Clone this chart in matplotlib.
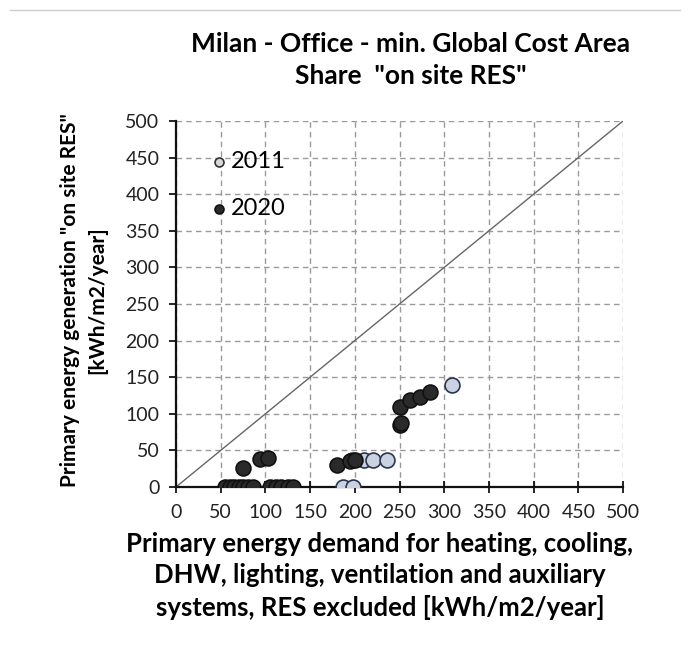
import matplotlib
matplotlib.use("Agg")
import matplotlib.pyplot as plt
from matplotlib.lines import Line2D

# Data
x2011 = [187, 198, 197, 210, 220, 236, 309]
y2011 = [0, 0, 37, 37, 37, 37, 139]

x2020 = [55, 60, 65, 70, 75, 80, 86, 105, 112, 118, 125, 131,
         75, 94, 103, 180, 195, 200, 250, 252, 250, 262, 273, 284]
y2020 = [0, 0, 0, 0, 0, 0, 0, 0, 0, 0, 0, 0,
         26, 38, 40, 30, 35, 37, 85, 88, 109, 119, 123, 130]

ticks = list(range(0, 501, 50))

title = 'Milan - Office - min. Global Cost Area\nShare  "on site RES"'
xlabel = ('Primary energy demand for heating, cooling,\n'
          'DHW, lighting, ventilation and auxiliary\n'
          'systems, RES excluded [kWh/m2/year]')
ylabel = 'Primary energy generation "on site RES"\n[kWh/m2/year]'

plt.rcParams['font.family'] = ['Lato', 'DejaVu Sans']

fig = plt.figure(figsize=(6.93, 6.49), dpi=100)
ax = fig.add_axes([176/693, 1-487/649, (623-176)/693, (487-121)/649])

ax.set_xlim(0, 500)
ax.set_ylim(0, 500)
ax.set_xticks(ticks)
ax.set_yticks(ticks)
ax.grid(True, linestyle=(0, (4, 3)), color='#9a9a9a', linewidth=1.0)
ax.set_axisbelow(True)
for s in ['top', 'right']:
    ax.spines[s].set_visible(False)
for s in ['left', 'bottom']:
    ax.spines[s].set_linewidth(1.6)
    ax.spines[s].set_color('#111111')
ax.tick_params(axis='x', direction='inout', length=8, width=1.2, labelsize=14, pad=8)
ax.tick_params(axis='y', direction='out', length=5, width=1.2, labelsize=14, pad=7)
for lab in ax.get_xticklabels() + ax.get_yticklabels():
    lab.set_color('#222222')

ax.plot([0, 500], [0, 500], color='#666666', linewidth=1.0, zorder=2)

ax.scatter(x2011, y2011, s=115, facecolor='#c9d2e0', edgecolor='#2a3550',
           linewidth=1.2, zorder=3, label='2011')
ax.scatter(x2020, y2020, s=115, facecolor='#2a2a2a', edgecolor='#111111',
           linewidth=1.2, zorder=4, label='2020')

leg = ax.legend(loc='upper left', bbox_to_anchor=(0.022, 0.975), frameon=False,
                fontsize=17, handletextpad=0.0, labelspacing=1.1,
                markerscale=0.6, handlelength=1.0)
leg.legend_handles[0].set_facecolor('#d8d8d8')
leg.legend_handles[0].set_edgecolor('#333333')

fig.text(411/693, 1-60/649, title, ha='center', va='center', fontsize=19,
         fontweight='bold', linespacing=1.4)
fig.text(380/693, 1-576/649, xlabel, ha='center', va='center', fontsize=18.5,
         fontweight='bold', linespacing=1.38)
fig.text(84/693, 1-300/649, ylabel, ha='center', va='center', fontsize=15,
         fontweight='bold', rotation=90, linespacing=1.45)

fig.add_artist(Line2D([10/693, 680/693], [1-10/649, 1-10/649],
                      color='#cccccc', linewidth=1.0))

fig.savefig('out.png', dpi=100)
